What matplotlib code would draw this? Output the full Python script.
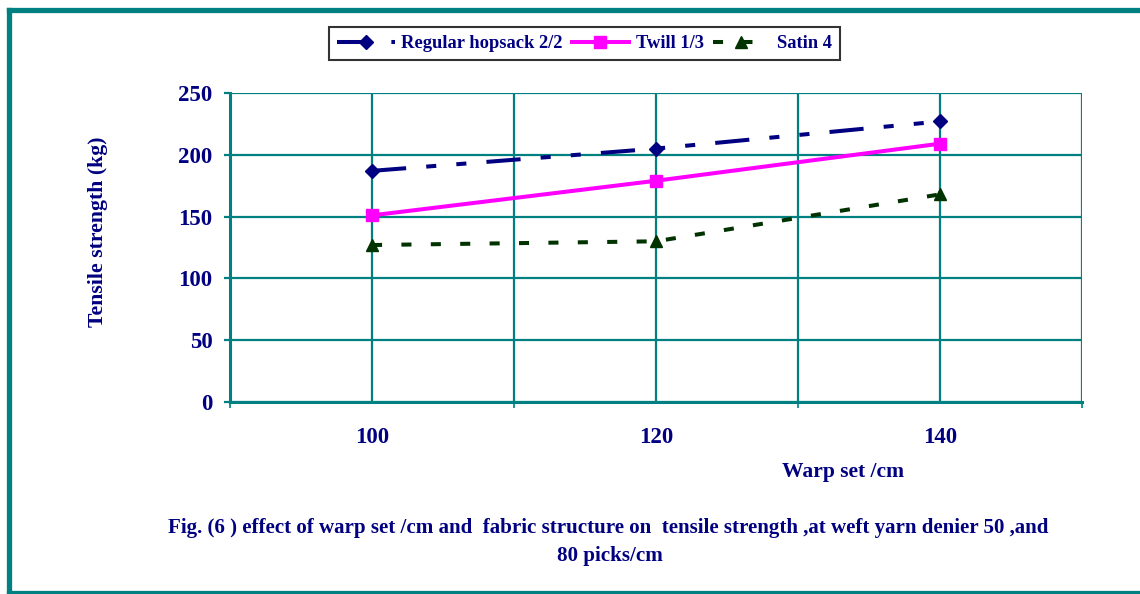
import matplotlib
matplotlib.use("Agg")
import matplotlib.pyplot as plt
from matplotlib.lines import Line2D

# ---- data ----
warp_set = [100, 120, 140]
hopsack = [187, 205, 227]
twill = [151, 179, 209]
satin = [127, 130, 168]
series_names = ["Regular hopsack 2/2", "Twill 1/3", "Satin 4"]
y_ticks = [0, 50, 100, 150, 200, 250]
x_labels = ["100", "120", "140"]

NAVY = "#000080"
TEAL = "#008080"
MAGENTA = "#FF00FF"
GREEN = "#003300"
FONT = "Liberation Serif"

plt.rcParams['font.family'] = [FONT, 'DejaVu Serif']

fig = plt.figure(figsize=(11.4, 5.94), dpi=100)
ax = fig.add_axes([230/1140, 1-402/594, (1082-230)/1140, (402-93)/594])

lw = 2.9
ax.plot(warp_set, hopsack, color=NAVY, lw=lw, dashes=(8.5, 5, 2.5, 5, 2.5, 5),
        marker='D', markersize=7, label=series_names[0], zorder=4)
ax.plot(warp_set, twill, color=MAGENTA, lw=lw, linestyle='-',
        marker='s', markersize=8, label=series_names[1], zorder=4)
ax.plot(warp_set, satin, color=GREEN, lw=lw, dashes=(2.5, 4.8),
        marker='^', markersize=8.5, label=series_names[2], zorder=4)

ax.set_xlim(90, 150)
ax.set_ylim(0, 250)
ax.set_yticks(y_ticks)
ax.set_xticks([90, 110, 130, 150])
ax.set_xticklabels([])
ax.set_xticks(warp_set, minor=True)
ax.set_xticklabels(x_labels, minor=True)

ax.grid(True, which='both', color=TEAL, lw=1.6)
ax.set_axisbelow(True)
for s in ['top', 'right']:
    ax.spines[s].set_visible(False)
for s in ['left', 'bottom']:
    ax.spines[s].set_color(TEAL)
    ax.spines[s].set_linewidth(2.2)

ax.tick_params(axis='y', which='major', direction='out', length=4.5, width=1.6,
               color=TEAL, labelcolor=NAVY, labelsize=16.5, pad=8)
ax.tick_params(axis='x', which='major', direction='out', length=4.5, width=1.2,
               color=TEAL)
ax.tick_params(axis='x', which='minor', length=0, labelcolor=NAVY, labelsize=16.5, pad=18)
for lab in ax.get_yticklabels() + ax.get_xticklabels(minor=True):
    lab.set_fontweight('bold')

fig.text(98/1140, 1-232/594, "Tensile strength (kg)", rotation=90, ha='center', va='center',
         fontsize=15.7, fontweight='bold', color=NAVY)
fig.text(843/1140, 1-472/594, "Warp set /cm", ha='center', va='center',
         fontsize=15.5, fontweight='bold', color=NAVY)
fig.text(608/1140, 1-528/594,
         "Fig. (6 ) effect of warp set /cm and  fabric structure on  tensile strength ,at weft yarn denier 50 ,and",
         ha='center', va='center', fontsize=15.1, fontweight='bold', color=NAVY)
fig.text(610/1140, 1-556/594, "80 picks/cm", ha='center', va='center',
         fontsize=15.1, fontweight='bold', color=NAVY)

leg = ax.legend(loc='center', bbox_to_anchor=(584.5/1140, 1-43.5/594),
                bbox_transform=fig.transFigure, ncol=3, frameon=True, fancybox=False,
                edgecolor='black', handlelength=3.1, handletextpad=0.35,
                columnspacing=0.5, borderpad=0.45, numpoints=1,
                prop={'family': FONT, 'weight': 'bold', 'size': 13.3})
leg.get_frame().set_linewidth(1.5)
for t in leg.get_texts():
    t.set_color(NAVY)

# figure border (teal)
border_kw = dict(color=TEAL, lw=3.8, transform=fig.transFigure, figure=fig)
fig.lines.append(Line2D([8.5/1140, 8.5/1140], [1-9.5/594, 0], **border_kw))
fig.lines.append(Line2D([8.5/1140, 1.0], [1-9.5/594, 1-9.5/594], **border_kw))
fig.lines.append(Line2D([8.5/1140, 1.0], [1.0/594, 1.0/594], **border_kw))

fig.savefig("out.png", dpi=100)
